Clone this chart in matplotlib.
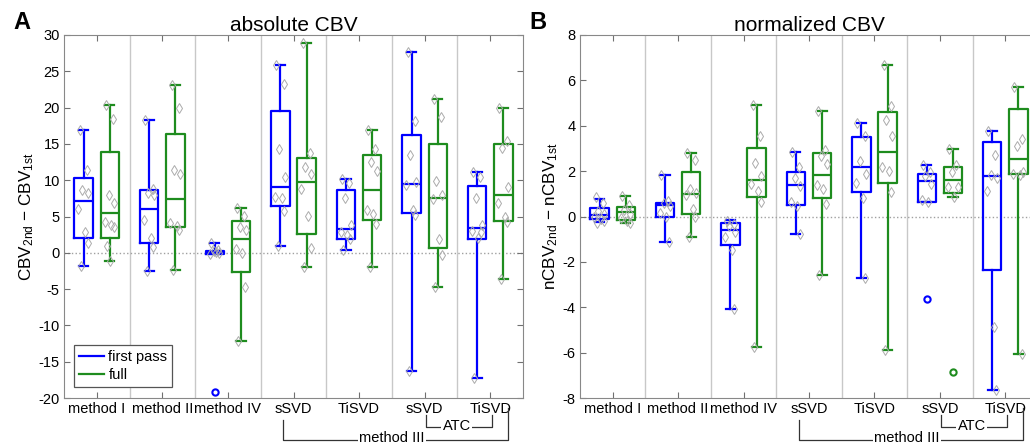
import numpy as np
import matplotlib
matplotlib.use("Agg")
import matplotlib.pyplot as plt

plt.rcParams['font.family'] = ['Liberation Sans', 'DejaVu Sans']
plt.rcParams['mathtext.fontset'] = 'custom'
plt.rcParams['mathtext.rm'] = 'Liberation Sans'
plt.rcParams['mathtext.it'] = 'Liberation Sans:italic'
plt.rcParams['axes.unicode_minus'] = False

groups = ['method I', 'method II', 'method IV', 'sSVD', 'TiSVD', 'sSVD', 'TiSVD']

# ---- panel A: absolute CBV (box stats) ----
abs_fp_hi  = [16.9, 18.3, 1.3, 25.8, 10.1, 27.6, 11.1]
abs_fp_q3  = [10.3, 8.6, 0.3, 19.6, 8.6, 16.2, 9.2]
abs_fp_med = [7.1, 6.1, 0.05, 9.1, 3.3, 9.5, 3.4]
abs_fp_q1  = [2.0, 1.3, -0.15, 6.5, 1.9, 5.5, 1.9]
abs_fp_lo  = [-1.8, -2.5, -0.2, 0.9, 0.4, -16.3, -17.2]
abs_fp_out = [[], [], [-19.2], [], [], [], []]
abs_fp_pts = [
    [16.9, 11.4, 8.7, 8.3, 6.0, 2.9, 1.4, -1.8],
    [18.3, 8.8, 8.2, 7.9, 4.5, 2.0, 0.8, -2.5],
    [1.3, 0.4, 0.2, 0.0, -0.1, 0.1],
    [25.8, 23.3, 14.3, 10.5, 7.7, 7.5, 5.8, 0.9],
    [10.1, 9.6, 7.5, 3.8, 2.9, 2.5, 1.9, 0.4],
    [27.6, 18.1, 13.5, 9.7, 9.3, 5.9, 5.2, -16.3],
    [11.1, 10.5, 7.5, 3.8, 3.0, 2.1, 2.9, -17.2],
]

abs_full_hi  = [20.3, 23.1, 6.2, 28.9, 16.9, 21.2, 19.9]
abs_full_q3  = [13.9, 16.4, 4.4, 13.05, 13.5, 15.0, 15.0]
abs_full_med = [5.5, 7.4, 1.9, 9.8, 8.6, 7.6, 8.0]
abs_full_q1  = [2.0, 3.6, -2.7, 2.6, 4.5, 0.6, 4.4]
abs_full_lo  = [-1.1, -2.4, -12.2, -2.0, -2.0, -4.7, -3.65]
abs_full_out = [[], [], [], [], [], [], []]
abs_full_pts = [
    [20.3, 18.4, 7.9, 6.9, 4.2, 3.8, 3.5, 0.9, -1.1],
    [23.1, 20.0, 11.4, 10.9, 4.1, 3.7, 3.2, -2.4],
    [6.2, 5.1, 3.5, 3.2, 0.5, 0.0, -4.7, -12.2],
    [28.9, 13.8, 11.8, 10.9, 8.8, 5.1, 0.6, -2.0],
    [16.9, 14.3, 12.5, 11.3, 5.9, 5.4, 3.9, -2.0],
    [21.2, 18.7, 9.9, 8.0, 7.4, 1.95, -0.35, -4.7],
    [19.9, 15.4, 14.5, 9.0, 6.8, 4.9, 4.2, -3.65],
]

# ---- panel B: normalized CBV ----
nrm_fp_hi  = [0.78, 1.85, -0.16, 2.83, 4.11, 2.29, 3.76]
nrm_fp_q3  = [0.38, 0.6, -0.28, 1.95, 3.5, 1.86, 3.29]
nrm_fp_med = [0.07, 0.5, -0.59, 1.41, 2.17, 1.57, 1.79]
nrm_fp_q1  = [-0.12, 0.0, -1.25, 0.5, 1.09, 0.66, -2.35]
nrm_fp_lo  = [-0.25, -1.13, -4.06, -0.75, -2.71, 0.66, -7.63]
nrm_fp_out = [[], [], [], [], [], [-3.62], []]
nrm_fp_pts = [
    [0.85, 0.6, 0.23, 0.13, 0.0, -0.09, -0.2, -0.28],
    [1.85, 0.67, 0.6, 0.45, 0.16, 0.0, -1.13],
    [-0.2, -0.32, -0.44, -0.69, -0.9, -1.47, -4.06],
    [2.83, 2.19, 1.69, 1.34, 0.63, 0.45, -0.75],
    [4.11, 3.57, 2.44, 1.86, 1.48, 0.82, -2.71],
    [2.29, 1.95, 1.78, 1.44, 0.72, 0.63],
    [3.76, 2.71, 1.85, 1.7, 1.14, -4.87, -7.63],
]

nrm_full_hi  = [0.9, 2.82, 4.9, 4.64, 6.69, 2.98, 5.71]
nrm_full_q3  = [0.4, 1.94, 3.04, 2.8, 4.6, 2.19, 4.74]
nrm_full_med = [0.19, 0.97, 1.6, 1.83, 2.83, 1.61, 2.52]
nrm_full_q1  = [-0.15, 0.13, 0.84, 0.8, 1.47, 1.04, 1.88]
nrm_full_lo  = [-0.3, -0.92, -5.74, -2.6, -5.9, 0.87, -6.07]
nrm_full_out = [[], [], [], [], [], [-6.85], []]
nrm_full_pts = [
    [0.9, 0.5, 0.3, 0.12, -0.06, -0.18, -0.3],
    [2.82, 2.5, 1.22, 1.04, 0.94, 0.31, 0.0, -0.92],
    [4.9, 3.54, 2.36, 1.78, 1.45, 1.12, 0.65, -5.74],
    [4.64, 2.92, 2.66, 2.3, 1.39, 1.2, 0.56, -2.6],
    [6.69, 4.86, 4.27, 3.54, 2.2, 2.01, 1.07, -5.9],
    [2.98, 2.26, 1.95, 1.32, 1.28, 0.87],
    [5.71, 3.42, 3.1, 1.95, 1.88, 1.83, -6.07],
]

blue = '#0000ff'
green = '#1e8c1e'
jitter = [-0.06, 0.05, -0.02, 0.07, -0.08, 0.02, 0.06, -0.04, 0.0]
fs = 10.5


def stats(hi, q3, med, q1, lo, out):
    return [dict(whishi=hi[i], q3=q3[i], med=med[i], q1=q1[i], whislo=lo[i],
                 fliers=out[i]) for i in range(len(med))]


def draw_series(ax, st, pts, pos, color):
    props = dict(color=color, linewidth=1.6)
    ax.bxp(st, positions=pos, widths=0.28, boxprops=props, medianprops=props,
           whiskerprops=dict(color=color, linewidth=1.6, linestyle='-'),
           capprops=props,
           flierprops=dict(marker='o', markerfacecolor='none', markeredgecolor=color,
                           markersize=4.5, markeredgewidth=1.5),
           manage_ticks=False, zorder=3)
    for p, vals in zip(pos, pts):
        xs = [p + jitter[k % len(jitter)] for k in range(len(vals))]
        ax.plot(xs, vals, linestyle='none', marker='d', markersize=4.8,
                markerfacecolor='none', markeredgecolor='#ababab',
                markeredgewidth=0.7, zorder=4)


def decorate(ax, ylim, yticks, ylabel, title, letter):
    x = np.arange(1, len(groups) + 1)
    ax.set_xlim(0.5, len(groups) + 0.5)
    ax.set_ylim(*ylim)
    ax.set_yticks(yticks)
    ax.set_xticks(x)
    ax.set_xticklabels(groups)
    for s in np.arange(1.5, len(groups), 1.0):
        ax.axvline(s, color='#c8c8c8', linewidth=1, zorder=1)
    ax.axhline(0, color='#a0a0a0', linestyle=':', linewidth=1, zorder=1)
    ax.tick_params(direction='in', top=True, right=True, labelsize=fs,
                   length=4, color='#707070', pad=3)
    for sp in ax.spines.values():
        sp.set_color('#888888')
    ax.set_ylabel(ylabel, fontsize=12.3, labelpad=2)
    ax.set_title(title, fontsize=15, pad=3)
    ax.text(-0.111, 1.017, letter, transform=ax.transAxes, fontsize=17,
            fontweight='bold', ha='left', va='baseline')

    # brackets under the ATC / method III groups
    tr = ax.get_xaxis_transform()
    kw = dict(color='#333333', linewidth=0.9, transform=tr, clip_on=False)
    ax.plot([6.02, 6.02, 7.03, 7.03], [-0.047, -0.080, -0.080, -0.047], **kw)
    ax.text(6.49, -0.078, 'ATC', transform=tr, ha='center', va='center',
            fontsize=fs,
            bbox=dict(facecolor='white', edgecolor='none', pad=1))
    ax.plot([3.84, 3.84, 7.27, 7.27], [-0.061, -0.116, -0.116, -0.0275], **kw)
    ax.text(5.50, -0.110, 'method III', transform=tr, ha='center', va='center',
            fontsize=fs,
            bbox=dict(facecolor='white', edgecolor='none', pad=1))


fig = plt.figure(figsize=(10.3, 4.46), dpi=100)
axA = fig.add_axes([64 / 1030, 48 / 446, 459 / 1030, 363 / 446])
axB = fig.add_axes([580 / 1030, 48 / 446, 458 / 1030, 363 / 446])

x = np.arange(1, len(groups) + 1)

draw_series(axA, stats(abs_fp_hi, abs_fp_q3, abs_fp_med, abs_fp_q1, abs_fp_lo, abs_fp_out),
            abs_fp_pts, x - 0.2, blue)
draw_series(axA, stats(abs_full_hi, abs_full_q3, abs_full_med, abs_full_q1, abs_full_lo,
                       abs_full_out), abs_full_pts, x + 0.2, green)
decorate(axA, (-20, 30), np.arange(-20, 31, 5),
         r'CBV$_{\mathrm{2nd}}$ $-$ CBV$_{\mathrm{1st}}$', 'absolute CBV', 'A')

draw_series(axB, stats(nrm_fp_hi, nrm_fp_q3, nrm_fp_med, nrm_fp_q1, nrm_fp_lo, nrm_fp_out),
            nrm_fp_pts, x - 0.2, blue)
draw_series(axB, stats(nrm_full_hi, nrm_full_q3, nrm_full_med, nrm_full_q1, nrm_full_lo,
                       nrm_full_out), nrm_full_pts, x + 0.2, green)
decorate(axB, (-8, 8), np.arange(-8, 9, 2),
         r'nCBV$_{\mathrm{2nd}}$ $-$ nCBV$_{\mathrm{1st}}$', 'normalized CBV', 'B')

h1, = axA.plot([], [], color=blue, linewidth=1.6, label='first pass')
h2, = axA.plot([], [], color=green, linewidth=1.6, label='full')
leg = axA.legend(handles=[h1, h2], loc='lower left', bbox_to_anchor=(0.022, 0.03),
                 borderaxespad=0, fontsize=fs, handlelength=1.7, handletextpad=0.3,
                 fancybox=False, framealpha=1, edgecolor='#555555',
                 borderpad=0.35, labelspacing=0.25)
leg.get_frame().set_linewidth(0.9)

fig.savefig('out.png', dpi=100)
